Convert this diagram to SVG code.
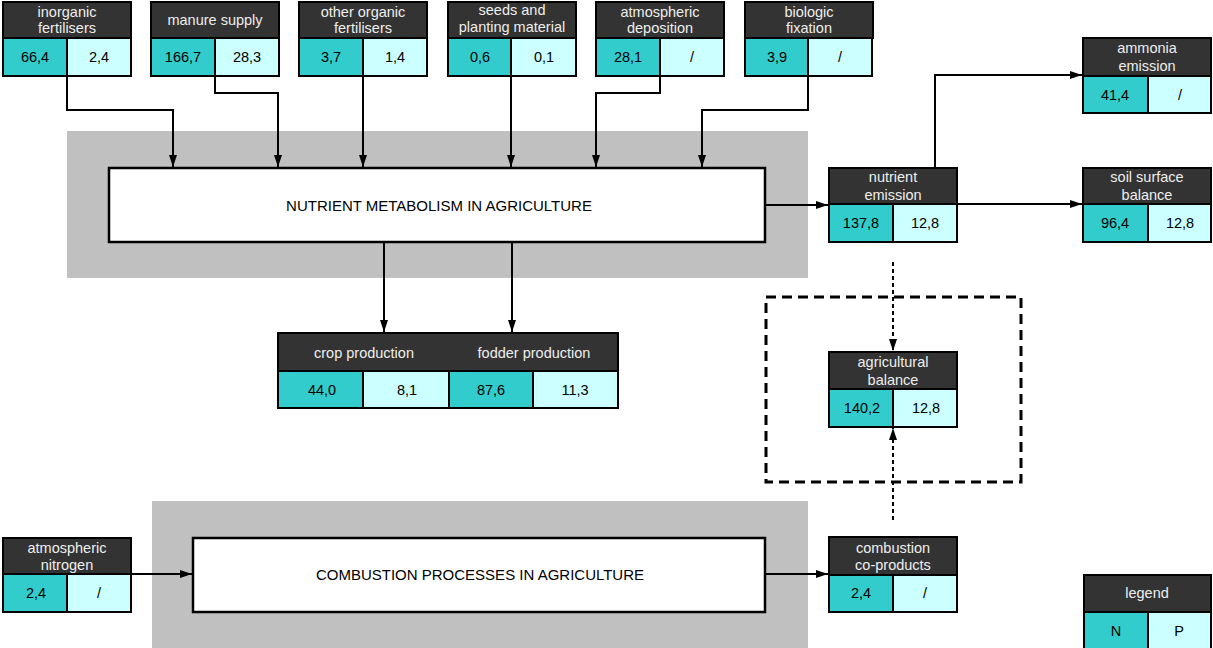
<svg xmlns="http://www.w3.org/2000/svg" width="1213" height="648" viewBox="0 0 1213 648">
  <defs>
    <marker id="arrow" markerWidth="12" markerHeight="8" refX="12" refY="4" orient="auto" markerUnits="userSpaceOnUse">
      <path d="M0,0 L12,4 L0,8 Z" fill="#000"/>
    </marker>
    <style>
      .hdr { fill: #333333; stroke: #000; stroke-width: 2; }
      .n { fill: #33CCCC; stroke: #000; stroke-width: 2; }
      .p { fill: #CCFFFF; stroke: #000; stroke-width: 2; }
      .ht { font-family: "Liberation Sans", Arial, sans-serif; font-size: 14.5px; fill: #EEEEEE; text-anchor: middle; }
      .vt { font-family: "Liberation Sans", Arial, sans-serif; font-size: 14.5px; fill: #000; text-anchor: middle; }
      .bt { font-family: "Liberation Sans", Arial, sans-serif; font-size: 15px; fill: #000; text-anchor: middle; }
      .zone { fill: #C0C0C0; }
      .proc { fill: #FFFFFF; stroke: #000; stroke-width: 2.5; }
      .link { fill: none; stroke: #000; stroke-width: 2; marker-end: url(#arrow); }
      .dot { fill: none; stroke: #000; stroke-width: 2; stroke-dasharray: 4 3; marker-end: url(#arrow); }
    </style>
  </defs>

  <!-- process zones -->
  <g id="zone-metabolism">
    <rect class="zone" x="67" y="131" width="741" height="147"/>
    <rect class="proc" x="109" y="168" width="656" height="74"/>
    <text class="bt" x="439" y="211">NUTRIENT METABOLISM IN AGRICULTURE</text>
  </g>
  <g id="zone-combustion">
    <rect class="zone" x="152" y="501" width="656" height="147"/>
    <rect class="proc" x="193" y="538" width="572" height="74"/>
    <text class="bt" x="480" y="580">COMBUSTION PROCESSES IN AGRICULTURE</text>
  </g>

  <!-- balance frame -->
  <rect id="balance-frame" x="766" y="297" width="255" height="185" fill="none" stroke="#000" stroke-width="3" stroke-dasharray="10 6"/>

  <!-- connectors -->
  <g id="connectors">
    <path class="link" d="M67,76 V110 H173 V167"/>
    <path class="link" d="M215,76 V93 H278 V167"/>
    <path class="link" d="M363,76 V167"/>
    <path class="link" d="M511,76 V167"/>
    <path class="link" d="M660,76 V93 H596 V167"/>
    <path class="link" d="M808,76 V110 H702 V167"/>
    <path class="link" d="M765,205 H828"/>
    <path class="link" d="M935,168 V75 H1082"/>
    <path class="link" d="M957,204 H1082"/>
    <path class="link" d="M384,242 V332"/>
    <path class="link" d="M512,242 V332"/>
    <path class="link" d="M131,574 H192"/>
    <path class="link" d="M765,574 H828"/>
    <path class="dot" d="M893,262 V351"/>
    <path class="dot" d="M893,520 V428"/>
  </g>

  <!-- input nodes -->
  <g id="inorganic-fertilisers">
    <rect class="hdr" x="3" y="2" width="128" height="36"/>
    <rect class="n" x="3" y="38" width="64" height="38"/>
    <rect class="p" x="67" y="38" width="64" height="38"/>
    <text class="ht" x="67" y="17">inorganic</text>
    <text class="ht" x="67" y="33">fertilisers</text>
    <text class="vt" x="35" y="62">66,4</text>
    <text class="vt" x="99" y="62">2,4</text>
  </g>
  <g id="manure-supply">
    <rect class="hdr" x="151" y="2" width="128" height="36"/>
    <rect class="n" x="151" y="38" width="64" height="38"/>
    <rect class="p" x="215" y="38" width="64" height="38"/>
    <text class="ht" x="215" y="25">manure supply</text>
    <text class="vt" x="183" y="62">166,7</text>
    <text class="vt" x="247" y="62">28,3</text>
  </g>
  <g id="other-organic-fertilisers">
    <rect class="hdr" x="299" y="2" width="128" height="36"/>
    <rect class="n" x="299" y="38" width="64" height="38"/>
    <rect class="p" x="363" y="38" width="64" height="38"/>
    <text class="ht" x="363" y="17">other organic</text>
    <text class="ht" x="363" y="33">fertilisers</text>
    <text class="vt" x="331" y="62">3,7</text>
    <text class="vt" x="395" y="62">1,4</text>
  </g>
  <g id="seeds-planting-material">
    <rect class="hdr" x="448" y="2" width="128" height="36"/>
    <rect class="n" x="448" y="38" width="63" height="38"/>
    <rect class="p" x="511" y="38" width="65" height="38"/>
    <text class="ht" x="512" y="15">seeds and</text>
    <text class="ht" x="512" y="32">planting material</text>
    <text class="vt" x="480" y="62">0,6</text>
    <text class="vt" x="544" y="62">0,1</text>
  </g>
  <g id="atmospheric-deposition">
    <rect class="hdr" x="596" y="2" width="128" height="36"/>
    <rect class="n" x="596" y="38" width="64" height="38"/>
    <rect class="p" x="660" y="38" width="64" height="38"/>
    <text class="ht" x="660" y="17">atmospheric</text>
    <text class="ht" x="660" y="33">deposition</text>
    <text class="vt" x="628" y="62">28,1</text>
    <text class="vt" x="692" y="62">/</text>
  </g>
  <g id="biologic-fixation">
    <rect class="hdr" x="745" y="2" width="128" height="36"/>
    <rect class="n" x="745" y="38" width="63" height="38"/>
    <rect class="p" x="808" y="38" width="64" height="38"/>
    <text class="ht" x="809" y="17">biologic</text>
    <text class="ht" x="809" y="33">fixation</text>
    <text class="vt" x="777" y="62">3,9</text>
    <text class="vt" x="840" y="62">/</text>
  </g>

  <!-- output nodes -->
  <g id="nutrient-emission">
    <rect class="hdr" x="829" y="168" width="128" height="36"/>
    <rect class="n" x="829" y="204" width="64" height="38"/>
    <rect class="p" x="893" y="204" width="64" height="38"/>
    <text class="ht" x="893" y="182">nutrient</text>
    <text class="ht" x="893" y="200">emission</text>
    <text class="vt" x="861" y="228">137,8</text>
    <text class="vt" x="925" y="228">12,8</text>
  </g>
  <g id="ammonia-emission">
    <rect class="hdr" x="1083" y="38" width="128" height="38"/>
    <rect class="n" x="1083" y="76" width="65" height="37"/>
    <rect class="p" x="1148" y="76" width="63" height="37"/>
    <text class="ht" x="1147" y="53">ammonia</text>
    <text class="ht" x="1147" y="71">emission</text>
    <text class="vt" x="1115" y="100">41,4</text>
    <text class="vt" x="1180" y="100">/</text>
  </g>
  <g id="soil-surface-balance">
    <rect class="hdr" x="1083" y="168" width="128" height="36"/>
    <rect class="n" x="1083" y="204" width="65" height="38"/>
    <rect class="p" x="1148" y="204" width="63" height="38"/>
    <text class="ht" x="1147" y="182">soil surface</text>
    <text class="ht" x="1147" y="200">balance</text>
    <text class="vt" x="1115" y="228">96,4</text>
    <text class="vt" x="1180" y="228">12,8</text>
  </g>
  <g id="crop-fodder-production">
    <rect class="hdr" x="278" y="333" width="340" height="38"/>
    <rect class="n" x="278" y="371" width="85" height="37"/>
    <rect class="p" x="363" y="371" width="86" height="37"/>
    <rect class="n" x="449" y="371" width="84" height="37"/>
    <rect class="p" x="533" y="371" width="85" height="37"/>
    <text class="ht" x="364" y="358">crop production</text>
    <text class="ht" x="534" y="358">fodder production</text>
    <text class="vt" x="322" y="395">44,0</text>
    <text class="vt" x="407" y="395">8,1</text>
    <text class="vt" x="491" y="395">87,6</text>
    <text class="vt" x="575" y="395">11,3</text>
  </g>
  <g id="agricultural-balance">
    <rect class="hdr" x="829" y="352" width="128" height="37"/>
    <rect class="n" x="829" y="389" width="64" height="38"/>
    <rect class="p" x="893" y="389" width="64" height="38"/>
    <text class="ht" x="893" y="367">agricultural</text>
    <text class="ht" x="893" y="385">balance</text>
    <text class="vt" x="862" y="413">140,2</text>
    <text class="vt" x="926" y="413">12,8</text>
  </g>
  <g id="atmospheric-nitrogen">
    <rect class="hdr" x="3" y="538" width="128" height="36"/>
    <rect class="n" x="3" y="574" width="64" height="38"/>
    <rect class="p" x="67" y="574" width="64" height="38"/>
    <text class="ht" x="67" y="553">atmospheric</text>
    <text class="ht" x="67" y="570">nitrogen</text>
    <text class="vt" x="36" y="598">2,4</text>
    <text class="vt" x="99" y="598">/</text>
  </g>
  <g id="combustion-co-products">
    <rect class="hdr" x="829" y="537" width="128" height="38"/>
    <rect class="n" x="829" y="575" width="64" height="37"/>
    <rect class="p" x="893" y="575" width="64" height="37"/>
    <text class="ht" x="893" y="553">combustion</text>
    <text class="ht" x="893" y="570">co-products</text>
    <text class="vt" x="861" y="598">2,4</text>
    <text class="vt" x="925" y="598">/</text>
  </g>
  <g id="legend">
    <rect class="hdr" x="1084" y="575" width="127" height="37"/>
    <rect class="n" x="1084" y="612" width="64" height="40"/>
    <rect class="p" x="1148" y="612" width="63" height="40"/>
    <text class="ht" x="1147" y="598">legend</text>
    <text class="vt" x="1116" y="636">N</text>
    <text class="vt" x="1179" y="636">P</text>
  </g>
</svg>
